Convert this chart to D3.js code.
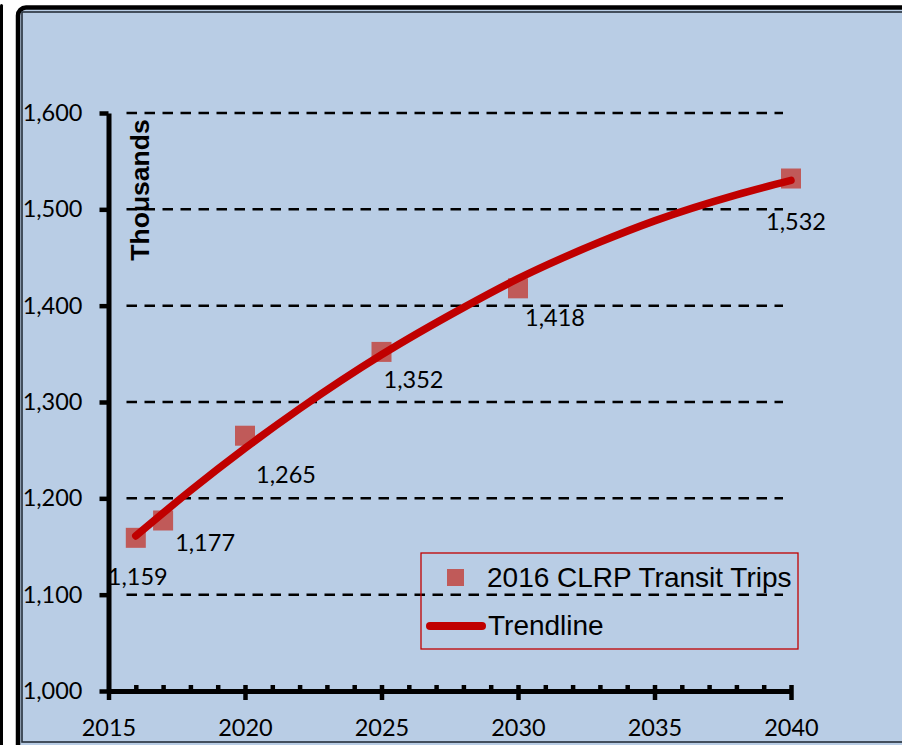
<!DOCTYPE html>
<html>
<head>
<meta charset="utf-8">
<script src="https://cdn.jsdelivr.net/npm/d3@7"></script>
<style>
  body { margin: 0; background: #fff; }
  svg { display: block; }
</style>
</head>
<body>
<div id="chart"></div>
<script>
// Data
const years = [2016, 2017, 2020, 2025, 2030, 2040];
const trips = [1159, 1177, 1265, 1352, 1418, 1532];
// trendline (polynomial) read at a few years
const trendYears = [2016, 2018, 2020, 2022, 2025, 2028, 2030, 2033, 2035, 2038, 2040];
const trendValues = [1161, 1208, 1252, 1293, 1349, 1398, 1428, 1466, 1488, 1515, 1530];
const yTicks = [1000, 1100, 1200, 1300, 1400, 1500, 1600];
const xTicks = [2015, 2020, 2025, 2030, 2035, 2040];
const seriesName = "2016 CLRP Transit Trips";
const trendName = "Trendline";
const yTitle = "Thousands";

const width = 902;
const height = 745;

const svg = d3.select("#chart").append("svg")
    .attr("width", width)
    .attr("height", height);

// frame
svg.append("rect")
    .attr("x", 0).attr("y", 4)
    .attr("width", 3).attr("height", 800)
    .attr("rx", 1.5)
    .attr("fill", "#000");
svg.append("rect")
    .attr("x", 18).attr("y", 7.5)
    .attr("width", 1000).attr("height", 1000)
    .attr("rx", 8)
    .attr("fill", "#b9cde5")
    .attr("stroke", "#000")
    .attr("stroke-width", 4.5);
svg.append("rect")
    .attr("x", 22).attr("y", 12)
    .attr("width", 1000).attr("height", 730)
    .attr("fill", "none")
    .attr("stroke", "#26303b")
    .attr("stroke-width", 1.6);

// scales
const x = d3.scaleLinear().domain([2015, 2040]).range([108.5, 791]);
const y = d3.scaleLinear().domain([1000, 1600]).range([691, 113]);

// gridlines (dashes start a little right of the axis, end short of 2040)
const gridStart = x(2015) + 18;
const gridEnd = 783;
svg.append("g")
    .selectAll("line")
    .data(yTicks.slice(1))
    .join("line")
        .attr("x1", gridStart)
        .attr("x2", gridEnd)
        .attr("y1", d => y(d))
        .attr("y2", d => y(d))
        .attr("stroke", "#000")
        .attr("stroke-width", 2.5)
        .attr("stroke-dasharray", "10.5,7.5");

// y axis
svg.append("g")
    .attr("transform", `translate(${x(2015)},0)`)
    .call(d3.axisLeft(y).tickValues(yTicks).tickSize(9).tickSizeOuter(0).tickPadding(17).tickFormat(d3.format(",")))
    .call(g => g.select(".domain").attr("stroke", "#000").attr("stroke-width", 5))
    .call(g => g.selectAll(".tick line").attr("stroke", "#000").attr("stroke-width", 4.5))
    .call(g => g.selectAll(".tick text")
        .attr("fill", "#000")
        .attr("dy", "0.32em")
        .style("font-family", "Lato, sans-serif")
        .style("font-size", "23.5px"));

// x axis minor ticks (upward)
svg.append("g")
    .attr("transform", `translate(0,${y(1000)})`)
    .call(d3.axisBottom(x).tickValues(d3.range(2016, 2041)).tickSize(-6).tickFormat(""))
    .call(g => g.select(".domain").remove())
    .call(g => g.selectAll(".tick line").attr("stroke", "#000").attr("stroke-width", 4.5));

// x axis
svg.append("g")
    .attr("transform", `translate(0,${y(1000)})`)
    .call(d3.axisBottom(x).tickValues(xTicks).tickSize(9).tickSizeOuter(0).tickPadding(19).tickFormat(d3.format("d")))
    .call(g => g.select(".domain").attr("stroke", "#000").attr("stroke-width", 5))
    .call(g => g.selectAll(".tick line").attr("stroke", "#000").attr("stroke-width", 4.5))
    .call(g => g.selectAll(".tick text")
        .attr("fill", "#000")
        .style("font-family", "Lato, sans-serif")
        .style("font-size", "23.5px"));

// y title
svg.append("text")
    .attr("transform", `translate(149,${190}) rotate(-90)`)
    .attr("text-anchor", "middle")
    .style("font-family", "'Liberation Sans', Arial, sans-serif")
    .style("font-weight", "bold")
    .style("font-size", "26.5px")
    .text(yTitle);

// markers
const points = years.map((d, i) => ({year: d, value: trips[i]}));
const size = 20;
svg.append("g")
    .selectAll("rect")
    .data(points)
    .join("rect")
        .attr("x", d => x(d.year) - size / 2)
        .attr("y", d => y(d.value) - size / 2)
        .attr("width", size)
        .attr("height", size)
        .attr("fill", "#c0504d")
        .attr("fill-opacity", 0.92);

// trendline
const trend = trendYears.map((d, i) => [d, trendValues[i]]);
svg.append("path")
    .datum(trend)
    .attr("fill", "none")
    .attr("stroke", "#c00000")
    .attr("stroke-width", 7.5)
    .attr("stroke-linecap", "round")
    .attr("d", d3.line().x(d => x(d[0])).y(d => y(d[1])).curve(d3.curveMonotoneX));

// data labels (offset from each marker, as placed in the original)
const labelOffsets = [[2, 47], [42, 31], [41, 47], [32, 36], [37, 38], [5, 51]];
svg.append("g")
    .selectAll("text")
    .data(points)
    .join("text")
        .attr("x", (d, i) => x(d.year) + labelOffsets[i][0])
        .attr("y", (d, i) => y(d.value) + labelOffsets[i][1])
        .attr("text-anchor", "middle")
        .style("font-family", "Lato, sans-serif")
        .style("font-size", "23.5px")
        .text(d => d3.format(",")(d.value));

// legend
const legend = svg.append("g").attr("transform", "translate(421,553)");
legend.append("rect")
    .attr("width", 377)
    .attr("height", 96)
    .attr("fill", "none")
    .attr("stroke", "#c00000")
    .attr("stroke-width", 1.3);
legend.append("rect")
    .attr("x", 26).attr("y", 16)
    .attr("width", 17).attr("height", 17)
    .attr("fill", "#c0504d")
    .attr("fill-opacity", 0.92);
legend.append("text")
    .attr("x", 66).attr("y", 34)
    .style("font-family", "'Liberation Sans', Arial, sans-serif")
    .style("font-size", "28px")
    .text(seriesName);
legend.append("line")
    .attr("x1", 9).attr("x2", 61)
    .attr("y1", 73).attr("y2", 73)
    .attr("stroke", "#c00000")
    .attr("stroke-width", 8)
    .attr("stroke-linecap", "round");
legend.append("text")
    .attr("x", 67).attr("y", 82)
    .style("font-family", "'Liberation Sans', Arial, sans-serif")
    .style("font-size", "28px")
    .text(trendName);
</script>
</body>
</html>
